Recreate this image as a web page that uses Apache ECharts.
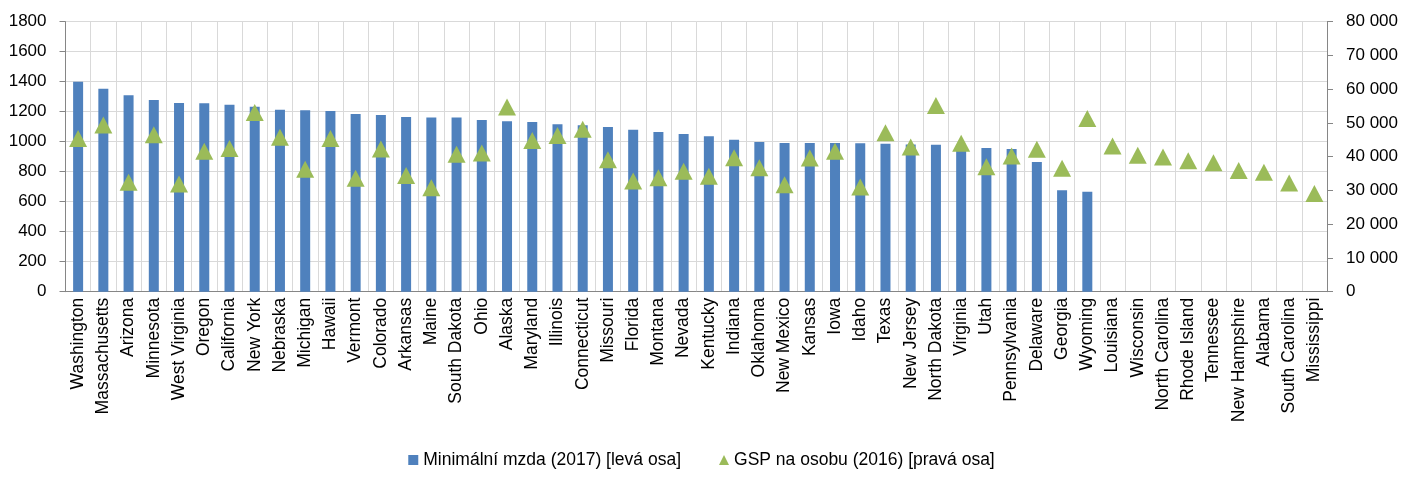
<!DOCTYPE html>
<html>
<head>
<meta charset="utf-8">
<script src="https://cdn.jsdelivr.net/npm/echarts@6/dist/echarts.min.js"></script>
<style>
  html, body { margin: 0; padding: 0; background: #fff; }
  #chart { width: 1403px; height: 477px; }
</style>
</head>
<body>
<div id="chart"></div>
<script>
// státy seřazené podle minimální mzdy
const states = [
  'Washington', 'Massachusetts', 'Arizona', 'Minnesota', 'West Virginia', 'Oregon', 'California', 'New York', 'Nebraska', 'Michigan',
  'Hawaii', 'Vermont', 'Colorado', 'Arkansas', 'Maine', 'South Dakota', 'Ohio', 'Alaska', 'Maryland', 'Illinois',
  'Connecticut', 'Missouri', 'Florida', 'Montana', 'Nevada', 'Kentucky', 'Indiana', 'Oklahoma', 'New Mexico', 'Kansas',
  'Iowa', 'Idaho', 'Texas', 'New Jersey', 'North Dakota', 'Virginia', 'Utah', 'Pennsylvania', 'Delaware', 'Georgia',
  'Wyoming', 'Louisiana', 'Wisconsin', 'North Carolina', 'Rhode Island', 'Tennessee', 'New Hampshire', 'Alabama', 'South Carolina', 'Mississippi'
];

// minimální mzda (2017) - levá osa
const minWage = [
  1400, 1353, 1309, 1278, 1258, 1256, 1247, 1233, 1213, 1209,
  1204, 1184, 1178, 1164, 1162, 1162, 1144, 1136, 1131, 1116,
  1109, 1098, 1080, 1064, 1051, 1036, 1013, 998, 991, 991,
  991, 989, 987, 982, 980, 970, 958, 951, 864, 676,
  667, null, null, null, null, null, null, null, null, null
];

// GSP na osobu (2016) - pravá osa
const gspPerCapita = [
  45400, 49400, 32400, 46500, 31900, 41600, 42400, 53100, 45800, 36300,
  45400, 33600, 42300, 34400, 30800, 40700, 41100, 54700, 44800, 46300,
  48100, 39100, 32800, 33800, 35700, 34200, 39700, 36700, 31700, 39600,
  41600, 31000, 47100, 42900, 55200, 44000, 37000, 40200, 42200, 36600,
  51300, 43200, 40400, 39900, 38800, 38200, 35900, 35400, 32200, 29100
];

const seriesNames = ['Minimální mzda (2017) [levá osa]', 'GSP na osobu (2016) [pravá osa]'];

const FONT = "'Liberation Sans', Arial, sans-serif";
const axisGray = '#868686';
const gridGray = '#d9d9d9';

// tisíce oddělené mezerou
const spaced = v => String(v).replace(/\B(?=(\d{3})+(?!\d))/g, ' ');

const chart = echarts.init(document.getElementById('chart'));

chart.setOption({
  animation: false,
  grid: { left: 65.5, right: 76, top: 21.7, bottom: 185.3, containLabel: false, outerBoundsMode: 'none' },
  legend: {
    bottom: 3,
    left: 'center',
    itemGap: 38,
    itemWidth: 10,
    itemHeight: 10,
    textStyle: { fontFamily: FONT, fontSize: 17.5, color: '#000' },
    data: [
      { name: seriesNames[0], icon: 'rect' },
      { name: seriesNames[1], icon: 'triangle' }
    ]
  },
  xAxis: {
    type: 'category',
    data: states,
    axisLine: { lineStyle: { color: axisGray, width: 1 } },
    axisTick: { length: 6, lineStyle: { color: axisGray } },
    splitLine: { show: true, lineStyle: { color: gridGray, width: 1 } },
    axisLabel: { interval: 0, rotate: 90, margin: 6, fontFamily: FONT, fontSize: 17.5, color: '#000' }
  },
  yAxis: [
    {
      type: 'value',
      min: 0,
      max: 1800,
      interval: 200,
      axisLine: { show: true, lineStyle: { color: axisGray } },
      axisTick: { show: true, length: 6, lineStyle: { color: axisGray } },
      splitLine: { lineStyle: { color: gridGray, width: 1 } },
      axisLabel: { margin: 19, fontFamily: FONT, fontSize: 17, color: '#000', formatter: v => String(v) }
    },
    {
      type: 'value',
      min: 0,
      max: 80000,
      interval: 10000,
      position: 'right',
      axisLine: { show: true, lineStyle: { color: axisGray } },
      axisTick: { show: true, length: 6, lineStyle: { color: axisGray } },
      splitLine: { show: false },
      axisLabel: { margin: 19, fontFamily: FONT, fontSize: 17, color: '#000', formatter: spaced }
    }
  ],
  series: [
    {
      name: seriesNames[0],
      type: 'bar',
      data: minWage,
      barWidth: 10,
      itemStyle: { color: '#4F81BD' },
      z: 2
    },
    {
      name: seriesNames[1],
      type: 'scatter',
      yAxisIndex: 1,
      data: gspPerCapita,
      symbol: 'triangle',
      symbolSize: [18, 17],
      itemStyle: { color: '#9BBB59', opacity: 1 },
      z: 3
    }
  ]
});
</script>
</body>
</html>
